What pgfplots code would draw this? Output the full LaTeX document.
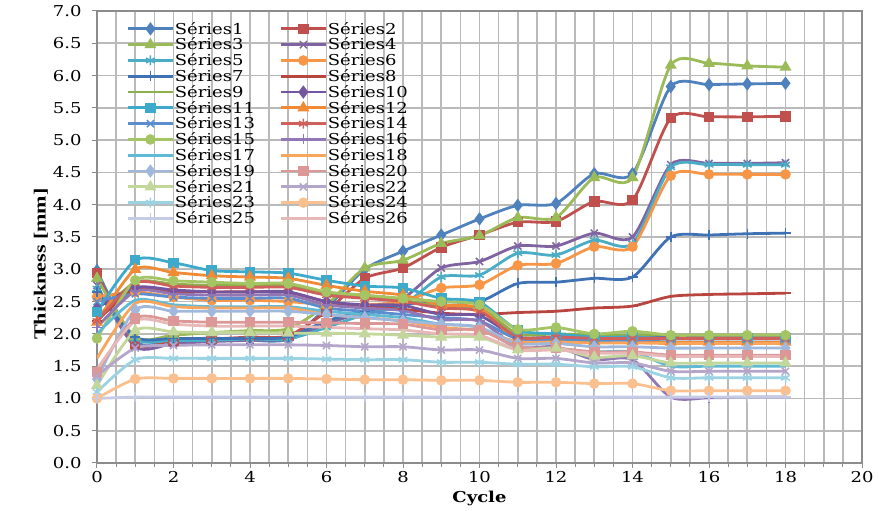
\documentclass[border=0pt]{standalone}
\usepackage{fontspec}
\setmainfont{DejaVu Serif}[FakeStretch=1.2]
\newfontfamily\ylabfont{Liberation Serif}[FakeStretch=1.3]
\usepackage{pgfplots}
\usepackage{pgfplotstable}
\pgfplotsset{compat=1.18}
\definecolor{c1}{HTML}{4F81BD}\definecolor{c2}{HTML}{C0504D}\definecolor{c3}{HTML}{9BBB59}
\definecolor{c4}{HTML}{8064A2}\definecolor{c5}{HTML}{4BACC6}\definecolor{c6}{HTML}{F79646}
\definecolor{c7}{HTML}{3F72B5}\definecolor{c8}{HTML}{B8453F}\definecolor{c9}{HTML}{8EB04A}
\definecolor{c10}{HTML}{7455A0}\definecolor{c11}{HTML}{3DAACB}\definecolor{c12}{HTML}{F08A35}
\definecolor{c13}{HTML}{5C8ECF}\definecolor{c14}{HTML}{D0605C}\definecolor{c15}{HTML}{A5C463}
\definecolor{c16}{HTML}{9177B5}\definecolor{c17}{HTML}{5FBAD4}\definecolor{c18}{HTML}{F9A55E}
\definecolor{c19}{HTML}{A0B8DC}\definecolor{c20}{HTML}{DB9896}\definecolor{c21}{HTML}{C3D69B}
\definecolor{c22}{HTML}{B4A5CA}\definecolor{c23}{HTML}{9CD3E3}\definecolor{c24}{HTML}{FBC08F}
\definecolor{c25}{HTML}{C5CBE4}\definecolor{c26}{HTML}{E6B9B8}
\pgfplotstableread{
c s1 s2 s3 s4 s5 s6 s7 s8 s9 s10 s11 s12 s13 s14 s15 s16 s17 s18 s19 s20 s21 s22 s23 s24 s25 s26
0 2.98 2.94 2.86 2.75 2.70 2.57 2.65 2.20 2.25 2.40 2.34 2.18 2.50 2.20 1.93 2.10 2.00 1.62 1.30 1.41 1.20 1.35 1.10 1.00 1.00 1.45
1 1.88 1.85 1.95 1.80 1.92 2.65 1.95 2.70 2.80 2.72 3.14 3.00 2.62 2.79 2.83 2.66 2.52 2.47 2.37 2.24 2.05 1.78 1.60 1.30 1.02 2.20
2 1.90 1.90 1.98 1.85 1.90 2.57 1.93 2.66 2.77 2.68 3.10 2.95 2.57 2.74 2.82 2.62 2.45 2.42 2.35 2.20 2.03 1.82 1.62 1.31 1.02 2.15
3 1.90 1.92 2.02 1.88 1.90 2.52 1.93 2.65 2.75 2.65 2.98 2.90 2.55 2.72 2.80 2.60 2.42 2.40 2.35 2.18 2.02 1.83 1.62 1.31 1.02 2.12
4 1.90 1.95 2.05 1.90 1.92 2.52 1.93 2.65 2.75 2.65 2.96 2.88 2.55 2.72 2.78 2.60 2.42 2.40 2.35 2.18 2.02 1.83 1.62 1.31 1.02 2.12
5 1.92 1.97 2.08 1.92 1.92 2.50 1.95 2.64 2.74 2.65 2.94 2.86 2.55 2.72 2.78 2.60 2.42 2.40 2.35 2.18 2.01 1.83 1.62 1.31 1.02 2.12
6 2.40 2.35 2.45 2.15 2.10 2.45 2.20 2.50 2.62 2.50 2.83 2.75 2.40 2.60 2.65 2.45 2.35 2.30 2.30 2.17 2.01 1.82 1.61 1.30 1.02 2.10
7 3.00 2.86 3.02 2.35 2.30 2.45 2.35 2.42 2.57 2.45 2.74 2.66 2.35 2.55 2.60 2.40 2.30 2.25 2.25 2.16 2.00 1.80 1.60 1.29 1.02 2.08
8 3.28 3.02 3.14 2.55 2.45 2.50 2.45 2.38 2.52 2.44 2.71 2.60 2.30 2.50 2.55 2.36 2.25 2.20 2.20 2.15 1.98 1.80 1.60 1.29 1.02 2.06
9 3.53 3.34 3.40 3.02 2.88 2.71 2.50 2.32 2.42 2.30 2.55 2.45 2.25 2.40 2.50 2.22 2.15 2.10 2.15 2.06 1.95 1.75 1.56 1.28 1.02 2.00
10 3.78 3.53 3.52 3.12 2.91 2.76 2.50 2.30 2.40 2.28 2.49 2.40 2.20 2.35 2.45 2.20 2.10 2.05 2.10 2.06 1.95 1.75 1.56 1.28 1.02 1.98
11 3.99 3.73 3.80 3.36 3.25 3.06 2.78 2.33 2.00 1.95 2.06 1.90 1.92 1.95 2.07 1.80 1.78 1.88 1.85 1.80 1.75 1.62 1.53 1.25 1.02 1.75
12 4.02 3.74 3.80 3.36 3.22 3.09 2.80 2.35 2.00 1.95 2.00 1.90 1.92 1.95 2.10 1.80 1.76 1.87 1.85 1.78 1.78 1.62 1.53 1.25 1.02 1.75
13 4.48 4.05 4.42 3.56 3.45 3.35 2.86 2.40 1.98 1.92 1.95 1.88 1.90 1.93 2.00 1.60 1.72 1.86 1.80 1.72 1.64 1.55 1.49 1.23 1.02 1.70
14 4.48 4.07 4.42 3.50 3.40 3.35 2.88 2.43 1.98 1.93 1.95 1.88 1.90 1.93 2.04 1.60 1.72 1.86 1.80 1.72 1.66 1.55 1.49 1.23 1.02 1.70
15 5.83 5.34 6.16 4.62 4.58 4.45 3.50 2.58 1.98 1.95 1.93 1.87 1.92 1.93 1.98 1.02 1.50 1.85 1.78 1.67 1.55 1.42 1.32 1.12 1.02 1.65
16 5.86 5.36 6.19 4.64 4.62 4.47 3.53 2.61 1.98 1.95 1.93 1.87 1.92 1.93 1.98 1.01 1.50 1.85 1.78 1.67 1.55 1.42 1.32 1.12 1.02 1.65
17 5.87 5.36 6.15 4.64 4.62 4.47 3.55 2.62 1.98 1.95 1.93 1.87 1.92 1.93 1.98 1.02 1.50 1.85 1.78 1.67 1.55 1.42 1.32 1.12 1.02 1.65
18 5.88 5.37 6.13 4.65 4.62 4.47 3.56 2.63 1.98 1.95 1.93 1.87 1.92 1.93 1.98 1.02 1.50 1.85 1.78 1.67 1.55 1.42 1.32 1.12 1.02 1.65
}\data
\pgfplotsset{
  ser/.style n args={3}{color=#1, mark=#2, line width=2.8pt, smooth, tension=0.45,
    mark size=#3, mark options={solid, line width=1.5pt, fill=#1}},
}
\begin{document}
\begin{tikzpicture}
\useasboundingbox (-97pt,-48pt) rectangle (782pt,463pt);
\begin{axis}[
  scale only axis, width=765pt, height=452pt,
  at={(0pt,0pt)}, anchor=south west,
  xmin=0, xmax=20, ymin=0, ymax=7,
  xtick={0,2,...,20}, minor x tick num=3,
  ytick={0,0.5,...,7},
  grid=both,
  major grid style={draw=black!27, line width=1.6pt},
  minor grid style={draw=black!27, line width=1.6pt},
  axis line style={draw=black!45, line width=1.6pt},
  tick align=outside, tick pos=left,
  major tick length=5pt, minor tick length=4pt,
  tick style={draw=black!45, line width=1pt},
  /pgf/number format/assume math mode=true,
  yticklabel style={/pgf/number format/fixed, /pgf/number format/fixed zerofill, /pgf/number format/precision=1, xshift=-7pt},
  ticklabel style={font=\fontsize{15}{16}\selectfont},
  xlabel={\bfseries Cycle},
  xlabel style={font=\fontsize{15}{16}\selectfont, yshift=-1pt},
  ylabel={\ylabfont\bfseries Thickness [mm]},
  ylabel style={font=\fontsize{17}{18}\selectfont, at={(ticklabel cs:0.44)}, yshift=-2pt},
  legend columns=2,
  legend cell align=left,
  legend style={draw=none, fill=none, at={(rel axis cs:0.039,0.978)}, anchor=north west,
    font=\fontsize{15}{15}\selectfont, row sep=0.3pt, inner sep=0pt,
    nodes={inner sep=1pt},
    /tikz/column 2/.style={column sep=24pt}},
  legend image code/.code={\draw[mark repeat=2,mark phase=2,#1] plot coordinates {(0pt,0pt) (22pt,0pt) (44pt,0pt)};},
]
\addplot[ser={c1}{diamond*}{5.5pt}] table[x=c,y=s1]{\data};
\addplot[ser={c2}{square*}{4.5pt}] table[x=c,y=s2]{\data};
\addplot[ser={c3}{triangle*}{5.5pt}] table[x=c,y=s3]{\data};
\addplot[ser={c4}{x}{5pt}] table[x=c,y=s4]{\data};
\addplot[ser={c5}{asterisk}{5pt}] table[x=c,y=s5]{\data};
\addplot[ser={c6}{*}{4.5pt}] table[x=c,y=s6]{\data};
\addplot[ser={c7}{+}{5pt}] table[x=c,y=s7]{\data};
\addplot[ser={c8}{-}{5pt}] table[x=c,y=s8]{\data};
\addplot[ser={c9}{none}{4pt}] table[x=c,y=s9]{\data};
\addplot[ser={c10}{diamond*}{5.5pt}] table[x=c,y=s10]{\data};
\addplot[ser={c11}{square*}{4.5pt}] table[x=c,y=s11]{\data};
\addplot[ser={c12}{triangle*}{5.5pt}] table[x=c,y=s12]{\data};
\addplot[ser={c13}{x}{5pt}] table[x=c,y=s13]{\data};
\addplot[ser={c14}{asterisk}{5pt}] table[x=c,y=s14]{\data};
\addplot[ser={c15}{*}{4.5pt}] table[x=c,y=s15]{\data};
\addplot[ser={c16}{+}{5pt}] table[x=c,y=s16]{\data};
\addplot[ser={c17}{none}{4pt}] table[x=c,y=s17]{\data};
\addplot[ser={c18}{none}{4pt}] table[x=c,y=s18]{\data};
\addplot[ser={c19}{diamond*}{5.5pt}] table[x=c,y=s19]{\data};
\addplot[ser={c20}{square*}{4.5pt}] table[x=c,y=s20]{\data};
\addplot[ser={c21}{triangle*}{5.5pt}] table[x=c,y=s21]{\data};
\addplot[ser={c22}{x}{5pt}] table[x=c,y=s22]{\data};
\addplot[ser={c23}{asterisk}{5pt}] table[x=c,y=s23]{\data};
\addplot[ser={c24}{*}{4.5pt}] table[x=c,y=s24]{\data};
\addplot[ser={c25}{+}{5pt}] table[x=c,y=s25]{\data};
\addplot[ser={c26}{none}{4pt}] table[x=c,y=s26]{\data};
\legend{S\'eries1,S\'eries2,S\'eries3,S\'eries4,S\'eries5,S\'eries6,S\'eries7,S\'eries8,S\'eries9,S\'eries10,S\'eries11,S\'eries12,S\'eries13,S\'eries14,S\'eries15,S\'eries16,S\'eries17,S\'eries18,S\'eries19,S\'eries20,S\'eries21,S\'eries22,S\'eries23,S\'eries24,S\'eries25,S\'eries26}
\end{axis}
\end{tikzpicture}
\end{document}
